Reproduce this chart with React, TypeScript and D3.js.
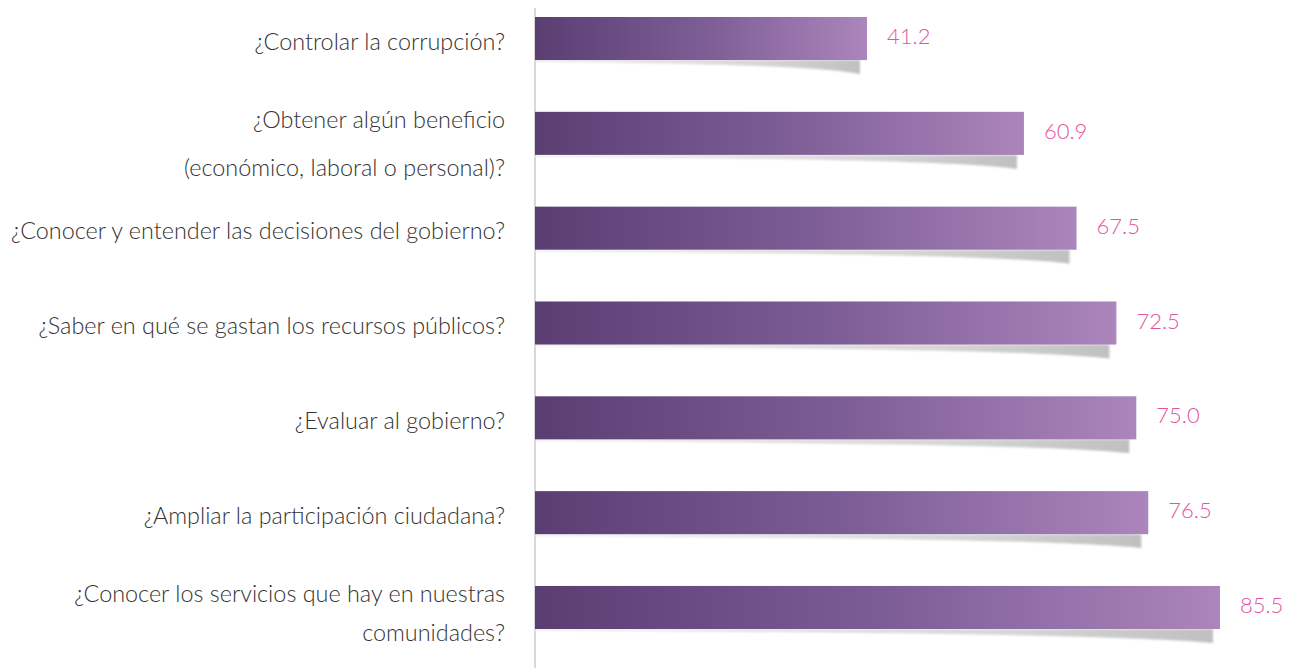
import React from "react";
import * as d3 from "d3";

const categories: string[][] = [
  ["¿Controlar la corrupción?"],
  ["¿Obtener algún beneficio", "(económico, laboral o personal)?"],
  ["¿Conocer y entender las decisiones del gobierno?"],
  ["¿Saber en qué se gastan los recursos públicos?"],
  ["¿Evaluar al gobierno?"],
  ["¿Ampliar la participación ciudadana?"],
  ["¿Conocer los servicios que hay en nuestras", "comunidades?"],
];
const values: number[] = [41.2, 60.9, 67.5, 72.5, 75.0, 76.5, 85.5];

const W = 1290;
const H = 668;
const FONT = "Lato, 'Open Sans', sans-serif";

export default function App() {
  const ids = categories.map((_, i) => String(i));
  const y = d3.scaleBand<string>().domain(ids).range([17, 629]).paddingInner(0.546).paddingOuter(0);
  const x = d3.scaleLinear().domain([0, 100]).range([538.7, 538.7 + 796.8]);
  const axisX = 535;
  const bw = y.bandwidth();
  const isLast = (i: number) => i === values.length - 1;

  return (
    <svg width={W} height={H} style={{ position: "absolute", left: 0, top: 0, background: "#fff" }}>
      <defs>
        <linearGradient id="barGrad" x1="0" x2="1" y1="0" y2="0">
          <stop offset="0%" stopColor="#5a3e72" />
          <stop offset="50%" stopColor="#7c5c94" />
          <stop offset="100%" stopColor="#ab85bc" />
        </linearGradient>
        <linearGradient id="shGrad" x1="0" x2="1" y1="0" y2="0">
          <stop offset="0%" stopColor="#ececec" />
          <stop offset="70%" stopColor="#d6d6d6" />
          <stop offset="100%" stopColor="#c0c0c0" />
        </linearGradient>
        <filter id="blur" x="-5%" y="-50%" width="110%" height="200%">
          <feGaussianBlur stdDeviation="1.3" />
        </filter>
      </defs>
      <line x1={axisX} x2={axisX} y1={8} y2={H} stroke="#b0b0b8" strokeWidth={1} />
      {values.map((v, i) => {
        const top = y(String(i)) as number;
        const bottom = top + bw;
        const xe = x(v);
        const x0 = axisX;
        const sr = xe - 7;
        const len = sr - x0;
        const shadow = `M${x0},${bottom} L${sr},${bottom} L${sr},${bottom + 14} C${sr - len * 0.1},${bottom + 7} ${x0 + len * 0.55},${bottom + 3} ${x0},${bottom + 2} Z`;
        const cy = top + bw / 2;
        const lines = categories[i];
        const gap = isLast(i) ? 39 : 48;
        return (
          <g key={i}>
            <path d={shadow} fill="url(#shGrad)" filter="url(#blur)" />
            <rect x={x0} y={top} width={xe - x0} height={bw} fill="url(#barGrad)" />
            <text
              x={xe + 20}
              y={cy - 3}
              dominantBaseline="central"
              fontFamily={FONT}
              fontWeight={300}
              fontSize={22}
              fill="#e0559e"
            >
              {v.toFixed(1)}
            </text>
            {lines.map((t, j) => (
              <text
                key={j}
                x={505}
                y={lines.length === 1 ? cy + 2 : cy - 14.5 + j * gap}
                textAnchor="end"
                dominantBaseline="central"
                fontFamily={FONT}
                fontWeight={300}
                fontSize={23.4}
                fill="#333333"
              >
                {t}
              </text>
            ))}
          </g>
        );
      })}
    </svg>
  );
}
